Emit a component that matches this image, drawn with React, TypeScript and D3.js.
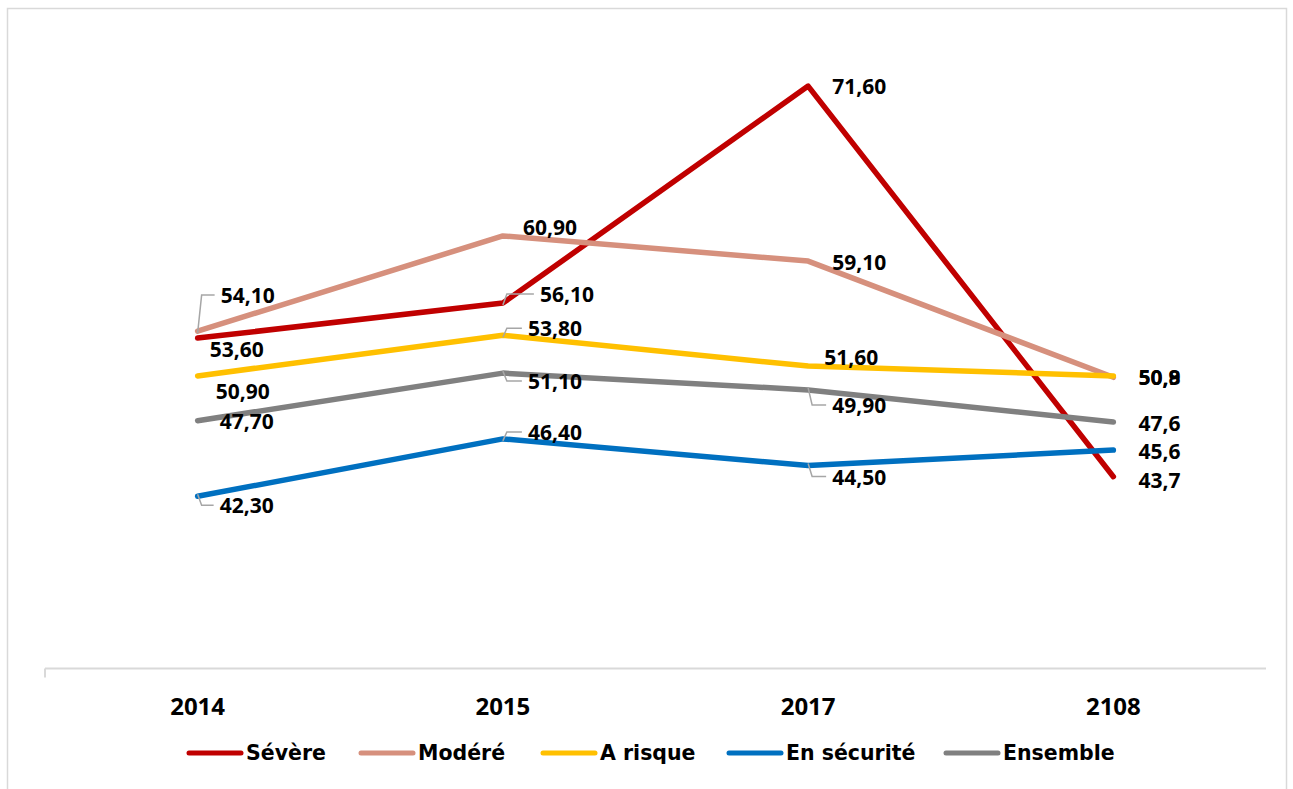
import { useEffect, useRef } from 'react'
import * as d3 from 'd3'

const years = ['2014', '2015', '2017', '2108']
const decimals = [2, 2, 2, 1]

const seriesNames = ['Sévère', 'Modéré', 'A risque', 'En sécurité', 'Ensemble']
const severe = [53.6, 56.1, 71.6, 43.7]
const moderate = [54.1, 60.9, 59.1, 50.8]
const atRisk = [50.9, 53.8, 51.6, 50.9]
const secure = [42.3, 46.4, 44.5, 45.6]
const overall = [47.7, 51.1, 49.9, 47.6]

const colors = ['#C00000', '#D6907D', '#FFC000', '#0070C0', '#808080']

// label offsets [dx, dy, leader] relative to the point
const labelOffsets = [
  [[12, 11, 0], [37, -9, 1], [24, 0, 0], [25, 3, 0]],
  [[23, -36, 1], [20, -9, 0], [24, 1, 0], [25, 0, 0]],
  [[18, 15, 0], [25, -7, 1], [16, -9, 0], [25, 1, 0]],
  [[22, 9, 1], [25, -7, 1], [24, 11, 1], [25, 1, 0]],
  [[22, 0, 0], [25, 8, 1], [24, 15, 1], [25, 1, 0]],
]
const legendX = [187, 359, 541, 727, 944]

export default function App() {
  const ref = useRef<SVGSVGElement>(null)

  useEffect(() => {
    const svg = d3.select(ref.current)
    svg.selectAll('*').remove()

    const values = [severe, moderate, atRisk, secure, overall]

    svg.append('rect')
      .attr('x', 7.5).attr('y', 8.5)
      .attr('width', 1279).attr('height', 800)
      .attr('fill', '#fff')
      .attr('stroke', '#d9d9d9')
      .attr('stroke-width', 1.5)

    const x = d3.scaleBand().domain(years).range([45, 1266])
    const y = d3.scaleLinear().domain([30, 75]).range([668.5, 38.5])
    const cx = (d: string) => (x(d) as number) + x.bandwidth() / 2

    // category axis
    svg.append('line')
      .attr('x1', 45).attr('x2', 1266)
      .attr('y1', y(30)).attr('y2', y(30))
      .attr('stroke', '#d9d9d9').attr('stroke-width', 2)
    svg.append('line')
      .attr('x1', 45).attr('x2', 45)
      .attr('y1', y(30)).attr('y2', y(30) + 9)
      .attr('stroke', '#d9d9d9').attr('stroke-width', 2)

    svg.selectAll('.xlab')
      .data(years)
      .enter().append('text')
      .attr('x', d => cx(d))
      .attr('y', 705)
      .attr('text-anchor', 'middle')
      .attr('dominant-baseline', 'central')
      .style('font-family', '"Open Sans", sans-serif')
      .style('font-weight', 700)
      .style('font-size', '24px')
      .text(d => d)

    const line = d3.line<number>()
      .x((_, i) => cx(years[i]))
      .y(d => y(d))

    values.forEach((vals, s) => {
      svg.append('path')
        .datum(vals)
        .attr('d', line)
        .attr('fill', 'none')
        .attr('stroke', colors[s])
        .attr('stroke-width', 5.5)
        .attr('stroke-linecap', 'round')
        .attr('stroke-linejoin', 'round')
    })

    // data labels
    values.forEach((vals, s) => {
      vals.forEach((v, i) => {
        const px = cx(years[i])
        const py = y(v)
        const [dx, dy, leader] = labelOffsets[s][i]
        const tx = px + dx
        const ty = py + dy
        if (leader) {
          svg.append('path')
            .attr('d', `M${px},${py - Math.sign(dy) * 2}L${px + 4},${ty}L${tx - 6},${ty}`)
            .attr('fill', 'none')
            .attr('stroke', '#a6a6a6')
            .attr('stroke-width', 1.5)
        }
        svg.append('text')
          .attr('x', tx)
          .attr('y', ty)
          .attr('dominant-baseline', 'central')
          .style('font-family', '"Open Sans", sans-serif')
          .style('font-weight', 700)
          .style('font-size', '21px')
          .attr('fill', '#000')
          .text(v.toFixed(decimals[i]).replace('.', ','))
      })
    })

    // legend
    seriesNames.forEach((name, s) => {
      const lx = legendX[s]
      svg.append('line')
        .attr('x1', lx + 2).attr('x2', lx + 54)
        .attr('y1', 753).attr('y2', 753)
        .attr('stroke', colors[s])
        .attr('stroke-width', 5)
        .attr('stroke-linecap', 'round')
      svg.append('text')
        .attr('x', lx + 59)
        .attr('y', 753)
        .attr('dominant-baseline', 'central')
        .style('font-family', '"DejaVu Sans", sans-serif')
        .style('font-weight', 700)
        .style('font-size', '20.5px')
        .text(name)
    })
  }, [])

  return (
    <svg
      ref={ref}
      width={1293}
      height={789}
      style={{ position: 'absolute', left: 0, top: 0 }}
    />
  )
}
